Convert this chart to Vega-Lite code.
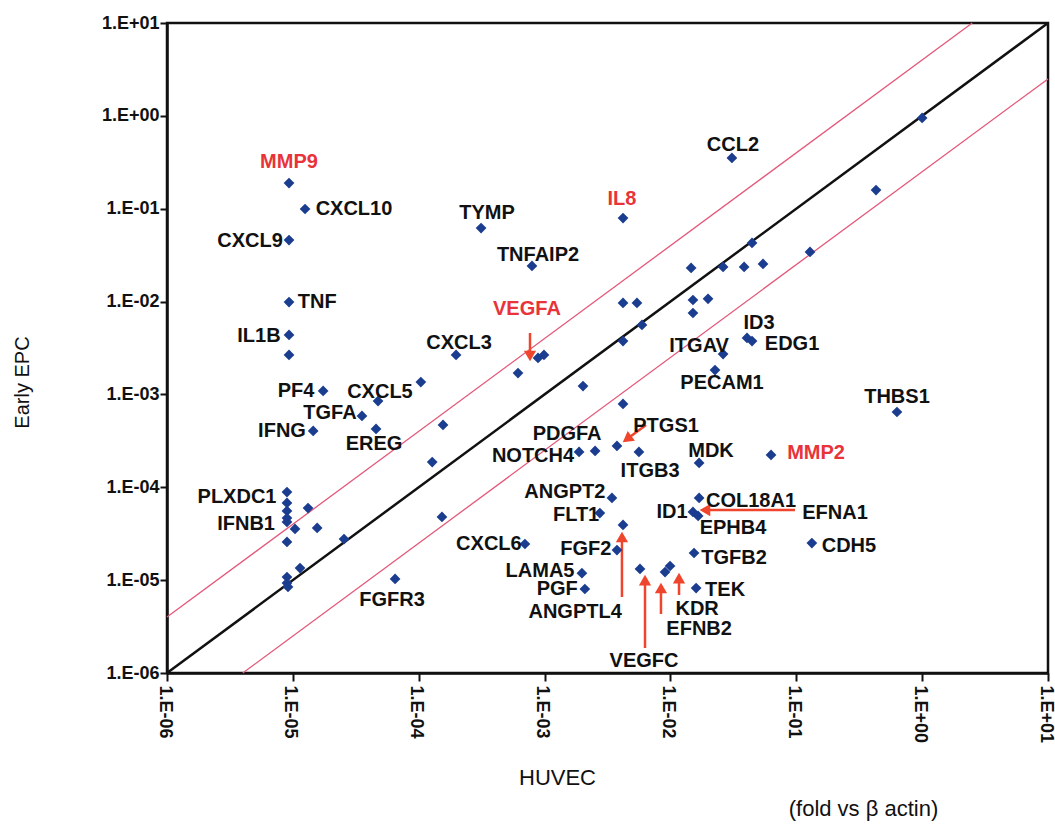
{
  "$schema": "https://vega.github.io/schema/vega-lite/v6.json",
  "width": 881,
  "height": 650,
  "autosize": {"type": "none"},
  "padding": {"left": 167, "top": 23, "right": 7, "bottom": 162},
  "background": "white",
  "config": {
    "view": {"stroke": "#111111", "strokeWidth": 2.5},
    "font": "Liberation Sans"
  },
  "title": {
    "text": "(fold vs β actin)",
    "orient": "bottom",
    "anchor": "middle",
    "dx": 256,
    "offset": 11,
    "font": "Liberation Sans",
    "fontSize": 22,
    "fontWeight": "normal",
    "color": "#111111"
  },
  "datasets": {
    "diagonal": [
      {"series": "equal", "huvec": 1e-6, "epc": 1e-6},
      {"series": "equal", "huvec": 10, "epc": 10}
    ],
    "bounds": [
      {"series": "up", "huvec": 1e-6, "epc": 4e-6},
      {"series": "up", "huvec": 2.5, "epc": 10},
      {"series": "down", "huvec": 4e-6, "epc": 1e-6},
      {"series": "down", "huvec": 10, "epc": 2.5}
    ],
    "genes": [
      {"gene": "MMP9", "huvec": 9.32e-6, "epc": 0.189},
      {"gene": "CXCL10", "huvec": 1.25e-5, "epc": 0.0993},
      {"gene": "CXCL9", "huvec": 9.32e-6, "epc": 0.046},
      {"gene": "TYMP", "huvec": 3.13e-4, "epc": 0.0619},
      {"gene": "TNFAIP2", "huvec": 7.94e-4, "epc": 0.0242},
      {"gene": "IL8", "huvec": 4.2e-3, "epc": 0.0794},
      {"gene": "CCL2", "huvec": 0.0308, "epc": 0.352},
      {"gene": "", "huvec": 1.0, "epc": 0.95},
      {"gene": "", "huvec": 0.43, "epc": 0.159},
      {"gene": "", "huvec": 0.1285, "epc": 0.0342},
      {"gene": "", "huvec": 0.0445, "epc": 0.0428},
      {"gene": "", "huvec": 0.0544, "epc": 0.0254},
      {"gene": "", "huvec": 0.0385, "epc": 0.0236},
      {"gene": "", "huvec": 0.0262, "epc": 0.0236},
      {"gene": "", "huvec": 0.0146, "epc": 0.023},
      {"gene": "", "huvec": 4.2e-3, "epc": 9.66e-3},
      {"gene": "", "huvec": 5.42e-3, "epc": 9.66e-3},
      {"gene": "", "huvec": 0.0151, "epc": 0.0104},
      {"gene": "", "huvec": 0.0199, "epc": 0.0107},
      {"gene": "", "huvec": 0.0151, "epc": 7.53e-3},
      {"gene": "", "huvec": 5.94e-3, "epc": 5.6e-3},
      {"gene": "", "huvec": 4.2e-3, "epc": 3.76e-3},
      {"gene": "ID3", "huvec": 0.0406, "epc": 4.06e-3},
      {"gene": "EDG1", "huvec": 0.0445, "epc": 3.76e-3},
      {"gene": "ITGAV", "huvec": 0.0262, "epc": 2.72e-3},
      {"gene": "PECAM1", "huvec": 0.0226, "epc": 1.83e-3},
      {"gene": "THBS1", "huvec": 0.631, "epc": 6.47e-4},
      {"gene": "MMP2", "huvec": 0.063, "epc": 2.23e-4},
      {"gene": "CDH5", "huvec": 0.133, "epc": 2.51e-5},
      {"gene": "MDK", "huvec": 0.0169, "epc": 1.83e-4},
      {"gene": "COL18A1", "huvec": 0.0169, "epc": 7.67e-5},
      {"gene": "ID1", "huvec": 0.0151, "epc": 5.42e-5},
      {"gene": "EPHB4", "huvec": 0.0166, "epc": 4.91e-5},
      {"gene": "TGFB2", "huvec": 0.0154, "epc": 1.96e-5},
      {"gene": "TEK", "huvec": 0.016, "epc": 8.22e-6},
      {"gene": "KDR", "huvec": 9.93e-3, "epc": 1.42e-5},
      {"gene": "EFNB2", "huvec": 9.06e-3, "epc": 1.22e-5},
      {"gene": "VEGFC", "huvec": 5.73e-3, "epc": 1.32e-5},
      {"gene": "ANGPTL4", "huvec": 4.2e-3, "epc": 3.93e-5},
      {"gene": "FGF2", "huvec": 3.76e-3, "epc": 2.11e-5},
      {"gene": "ANGPT2", "huvec": 3.43e-3, "epc": 7.67e-5},
      {"gene": "FLT1", "huvec": 2.75e-3, "epc": 5.28e-5},
      {"gene": "LAMA5", "huvec": 1.98e-3, "epc": 1.19e-5},
      {"gene": "PGF", "huvec": 2.09e-3, "epc": 8.03e-6},
      {"gene": "CXCL6", "huvec": 6.98e-4, "epc": 2.45e-5},
      {"gene": "NOTCH4", "huvec": 1.88e-3, "epc": 2.4e-4},
      {"gene": "PDGFA", "huvec": 2.52e-3, "epc": 2.46e-4},
      {"gene": "PTGS1", "huvec": 3.76e-3, "epc": 2.79e-4},
      {"gene": "ITGB3", "huvec": 5.62e-3, "epc": 2.4e-4},
      {"gene": "", "huvec": 4.2e-3, "epc": 7.89e-4},
      {"gene": "", "huvec": 2.02e-3, "epc": 1.23e-3},
      {"gene": "", "huvec": 6.15e-4, "epc": 1.7e-3},
      {"gene": "VEGFA", "huvec": 8.87e-4, "epc": 2.47e-3},
      {"gene": "", "huvec": 9.89e-4, "epc": 2.66e-3},
      {"gene": "CXCL3", "huvec": 1.98e-4, "epc": 2.66e-3},
      {"gene": "", "huvec": 1.04e-4, "epc": 1.36e-3},
      {"gene": "PF4", "huvec": 1.74e-5, "epc": 1.09e-3},
      {"gene": "CXCL5", "huvec": 4.75e-5, "epc": 8.49e-4},
      {"gene": "TGFA", "huvec": 3.54e-5, "epc": 5.86e-4},
      {"gene": "EREG", "huvec": 4.58e-5, "epc": 4.25e-4},
      {"gene": "IFNG", "huvec": 1.45e-5, "epc": 4.04e-4},
      {"gene": "", "huvec": 1.56e-4, "epc": 4.69e-4},
      {"gene": "", "huvec": 1.28e-4, "epc": 1.87e-4},
      {"gene": "", "huvec": 1.53e-4, "epc": 4.79e-5},
      {"gene": "", "huvec": 2.55e-5, "epc": 2.77e-5},
      {"gene": "FGFR3", "huvec": 6.49e-5, "epc": 1.03e-5},
      {"gene": "TNF", "huvec": 9.32e-6, "epc": 9.89e-3},
      {"gene": "IL1B", "huvec": 9.32e-6, "epc": 4.37e-3},
      {"gene": "", "huvec": 9.32e-6, "epc": 2.66e-3},
      {"gene": "PLXDC1", "huvec": 8.98e-6, "epc": 8.89e-5},
      {"gene": "", "huvec": 8.98e-6, "epc": 6.78e-5},
      {"gene": "", "huvec": 8.98e-6, "epc": 5.56e-5},
      {"gene": "", "huvec": 8.98e-6, "epc": 4.67e-5},
      {"gene": "IFNB1", "huvec": 8.98e-6, "epc": 4.23e-5},
      {"gene": "", "huvec": 1.04e-5, "epc": 3.56e-5},
      {"gene": "", "huvec": 1.32e-5, "epc": 5.98e-5},
      {"gene": "", "huvec": 1.56e-5, "epc": 3.65e-5},
      {"gene": "", "huvec": 8.98e-6, "epc": 2.58e-5},
      {"gene": "", "huvec": 1.14e-5, "epc": 1.35e-5},
      {"gene": "", "huvec": 8.98e-6, "epc": 1.08e-5},
      {"gene": "", "huvec": 8.98e-6, "epc": 9.31e-6},
      {"gene": "", "huvec": 9.15e-6, "epc": 8.44e-6}
    ],
    "labels": [
      {"label": "MMP9", "highlight": "yes", "huvec": 9.32e-6, "epc": 0.318},
      {"label": "CXCL10", "highlight": "no", "huvec": 3.06e-5, "epc": 0.0982},
      {"label": "CXCL9", "highlight": "no", "huvec": 4.57e-6, "epc": 0.0449},
      {"label": "TYMP", "highlight": "no", "huvec": 3.49e-4, "epc": 0.0899},
      {"label": "TNFAIP2", "highlight": "no", "huvec": 8.87e-4, "epc": 0.0318},
      {"label": "IL8", "highlight": "yes", "huvec": 4.12e-3, "epc": 0.127},
      {"label": "CCL2", "highlight": "no", "huvec": 0.0314, "epc": 0.485},
      {"label": "TNF", "highlight": "no", "huvec": 1.56e-5, "epc": 9.89e-3},
      {"label": "IL1B", "highlight": "no", "huvec": 5.38e-6, "epc": 4.26e-3},
      {"label": "VEGFA", "highlight": "yes", "huvec": 7.24e-4, "epc": 8.32e-3},
      {"label": "CXCL3", "highlight": "no", "huvec": 2.09e-4, "epc": 3.58e-3},
      {"label": "ID3", "highlight": "no", "huvec": 0.0506, "epc": 5.87e-3},
      {"label": "EDG1", "highlight": "no", "huvec": 0.0925, "epc": 3.49e-3},
      {"label": "ITGAV", "highlight": "no", "huvec": 0.0169, "epc": 3.33e-3},
      {"label": "PECAM1", "highlight": "no", "huvec": 0.0257, "epc": 1.33e-3},
      {"label": "THBS1", "highlight": "no", "huvec": 0.631, "epc": 9.38e-4},
      {"label": "PF4", "highlight": "no", "huvec": 1.06e-5, "epc": 1.09e-3},
      {"label": "CXCL5", "highlight": "no", "huvec": 4.92e-5, "epc": 1.06e-3},
      {"label": "TGFA", "highlight": "no", "huvec": 1.97e-5, "epc": 6.31e-4},
      {"label": "IFNG", "highlight": "no", "huvec": 8.2e-6, "epc": 4.04e-4},
      {"label": "EREG", "highlight": "no", "huvec": 4.42e-5, "epc": 2.92e-4},
      {"label": "PDGFA", "highlight": "no", "huvec": 1.51e-3, "epc": 3.75e-4},
      {"label": "PTGS1", "highlight": "no", "huvec": 9.23e-3, "epc": 4.57e-4},
      {"label": "NOTCH4", "highlight": "no", "huvec": 8.09e-4, "epc": 2.17e-4},
      {"label": "ITGB3", "highlight": "no", "huvec": 6.89e-3, "epc": 1.5e-4},
      {"label": "MDK", "highlight": "no", "huvec": 0.021, "epc": 2.46e-4},
      {"label": "MMP2", "highlight": "yes", "huvec": 0.1435, "epc": 2.34e-4},
      {"label": "ANGPT2", "highlight": "no", "huvec": 1.45e-3, "epc": 8.89e-5},
      {"label": "FLT1", "highlight": "no", "huvec": 1.78e-3, "epc": 5.04e-5},
      {"label": "ID1", "highlight": "no", "huvec": 0.0103, "epc": 5.42e-5},
      {"label": "COL18A1", "highlight": "no", "huvec": 0.0437, "epc": 7.11e-5},
      {"label": "EFNA1", "highlight": "no", "huvec": 0.203, "epc": 5.28e-5},
      {"label": "EPHB4", "highlight": "no", "huvec": 0.0314, "epc": 3.65e-5},
      {"label": "PLXDC1", "highlight": "no", "huvec": 3.6e-6, "epc": 7.85e-5},
      {"label": "IFNB1", "highlight": "no", "huvec": 4.25e-6, "epc": 4.03e-5},
      {"label": "CXCL6", "highlight": "no", "huvec": 3.61e-4, "epc": 2.45e-5},
      {"label": "FGF2", "highlight": "no", "huvec": 2.13e-3, "epc": 2.16e-5},
      {"label": "CDH5", "highlight": "no", "huvec": 0.262, "epc": 2.33e-5},
      {"label": "TGFB2", "highlight": "no", "huvec": 0.032, "epc": 1.73e-5},
      {"label": "LAMA5", "highlight": "no", "huvec": 9.2e-4, "epc": 1.25e-5},
      {"label": "PGF", "highlight": "no", "huvec": 1.26e-3, "epc": 8.03e-6},
      {"label": "ANGPTL4", "highlight": "no", "huvec": 1.75e-3, "epc": 4.55e-6},
      {"label": "TEK", "highlight": "no", "huvec": 0.0272, "epc": 7.83e-6},
      {"label": "KDR", "highlight": "no", "huvec": 0.0163, "epc": 4.85e-6},
      {"label": "EFNB2", "highlight": "no", "huvec": 0.0169, "epc": 3.0e-6},
      {"label": "VEGFC", "highlight": "no", "huvec": 6.17e-3, "epc": 1.35e-6},
      {"label": "FGFR3", "highlight": "no", "huvec": 6.14e-5, "epc": 6.11e-6}
    ],
    "arrows": [
      {"target": "VEGFA", "huvec": 7.66e-4, "epc": 2.59e-3, "tailHuvec": 7.66e-4, "tailEpc": 4.59e-3, "heading": 180},
      {"target": "PTGS1", "huvec": 4.52e-3, "epc": 3.31e-4, "tailHuvec": 6.4e-3, "tailEpc": 4.69e-4, "heading": 234},
      {"target": "EFNA1", "huvec": 0.0188, "epc": 5.69e-5, "tailHuvec": 0.0977, "tailEpc": 5.69e-5, "heading": 270},
      {"target": "ANGPTL4", "huvec": 4.12e-3, "epc": 2.92e-5, "tailHuvec": 4.12e-3, "tailEpc": 6.58e-6, "heading": 0},
      {"target": "VEGFC", "huvec": 6.28e-3, "epc": 1.0e-5, "tailHuvec": 6.28e-3, "tailEpc": 1.86e-6, "heading": 0},
      {"target": "EFNB2", "huvec": 8.41e-3, "epc": 8.22e-6, "tailHuvec": 8.41e-3, "tailEpc": 4.32e-6, "heading": 0},
      {"target": "KDR", "huvec": 0.0117, "epc": 1.05e-5, "tailHuvec": 0.0117, "tailEpc": 6.92e-6, "heading": 0}
    ]
  },
  "encoding": {
    "x": {
      "field": "huvec",
      "type": "quantitative",
      "scale": {"type": "log", "domain": [1e-6, 10], "nice": false},
      "axis": {
        "title": "HUVEC",
        "values": [1e-6, 1e-5, 1e-4, 1e-3, 1e-2, 1e-1, 1, 10],
        "labelExpr": "'1.E' + (round(log(datum.value)/LN10) < 0 ? '-' : '+') + '0' + abs(round(log(datum.value)/LN10))",
        "labelAngle": 90,
        "labelAlign": "left",
        "labelBaseline": "middle",
        "labelOffset": -3,
        "labelFont": "Liberation Sans",
        "labelFontWeight": "bold",
        "labelFontSize": 18,
        "labelColor": "#111111",
        "labelPadding": 4,
        "labelFlush": false,
        "labelOverlap": false,
        "labelBound": false,
        "tickSize": 8,
        "tickWidth": 2,
        "tickColor": "#111111",
        "domainColor": "#111111",
        "domainWidth": 2.5,
        "grid": false,
        "titleFont": "Liberation Sans",
        "titleFontWeight": "normal",
        "titleFontSize": 22,
        "titleColor": "#111111",
        "titleX": 390,
        "titleY": 104,
        "titleAlign": "center",
        "titleBaseline": "middle"
      }
    },
    "y": {
      "field": "epc",
      "type": "quantitative",
      "scale": {"type": "log", "domain": [1e-6, 10], "nice": false},
      "axis": {
        "title": "Early EPC",
        "values": [1e-6, 1e-5, 1e-4, 1e-3, 1e-2, 1e-1, 1, 10],
        "labelExpr": "'1.E' + (round(log(datum.value)/LN10) < 0 ? '-' : '+') + '0' + abs(round(log(datum.value)/LN10))",
        "labelFont": "Liberation Sans",
        "labelFontWeight": "bold",
        "labelFontSize": 18,
        "labelColor": "#111111",
        "labelPadding": 1,
        "labelFlush": false,
        "labelOverlap": false,
        "tickSize": 7,
        "tickWidth": 2,
        "tickColor": "#111111",
        "domainColor": "#111111",
        "domainWidth": 2.5,
        "grid": false,
        "titleFont": "Liberation Sans",
        "titleFontWeight": "normal",
        "titleFontSize": 20,
        "titleColor": "#111111",
        "titleAngle": -90,
        "titleX": -145,
        "titleY": 359,
        "titleAlign": "center",
        "titleBaseline": "middle"
      }
    }
  },
  "layer": [
    {
      "data": {"name": "bounds"},
      "mark": {"type": "line", "color": "#e4587a", "strokeWidth": 1.3},
      "encoding": {"detail": {"field": "series", "type": "nominal"}}
    },
    {
      "data": {"name": "diagonal"},
      "mark": {"type": "line", "color": "#111111", "strokeWidth": 2.5},
      "encoding": {"detail": {"field": "series", "type": "nominal"}}
    },
    {
      "data": {"name": "arrows"},
      "mark": {"type": "rule", "color": "#f0452d", "strokeWidth": 2.5},
      "encoding": {
        "x2": {"field": "tailHuvec"},
        "y2": {"field": "tailEpc"}
      }
    },
    {
      "data": {"name": "genes"},
      "mark": {"type": "point", "shape": "diamond", "filled": true, "size": 115, "color": "#1b3d8f", "opacity": 1}
    },
    {
      "data": {"name": "arrows"},
      "mark": {"type": "point", "shape": "triangle-up", "filled": true, "size": 150, "color": "#f0452d", "opacity": 1},
      "encoding": {
        "angle": {"field": "heading", "type": "quantitative", "scale": null}
      }
    },
    {
      "data": {"name": "labels"},
      "mark": {"type": "text", "font": "Liberation Sans", "fontWeight": "bold", "fontSize": 20, "align": "center", "baseline": "middle"},
      "encoding": {
        "text": {"field": "label", "type": "nominal"},
        "color": {
          "field": "highlight",
          "type": "nominal",
          "scale": {"domain": ["no", "yes"], "range": ["#111111", "#e8333a"]},
          "legend": null
        }
      }
    }
  ]
}
